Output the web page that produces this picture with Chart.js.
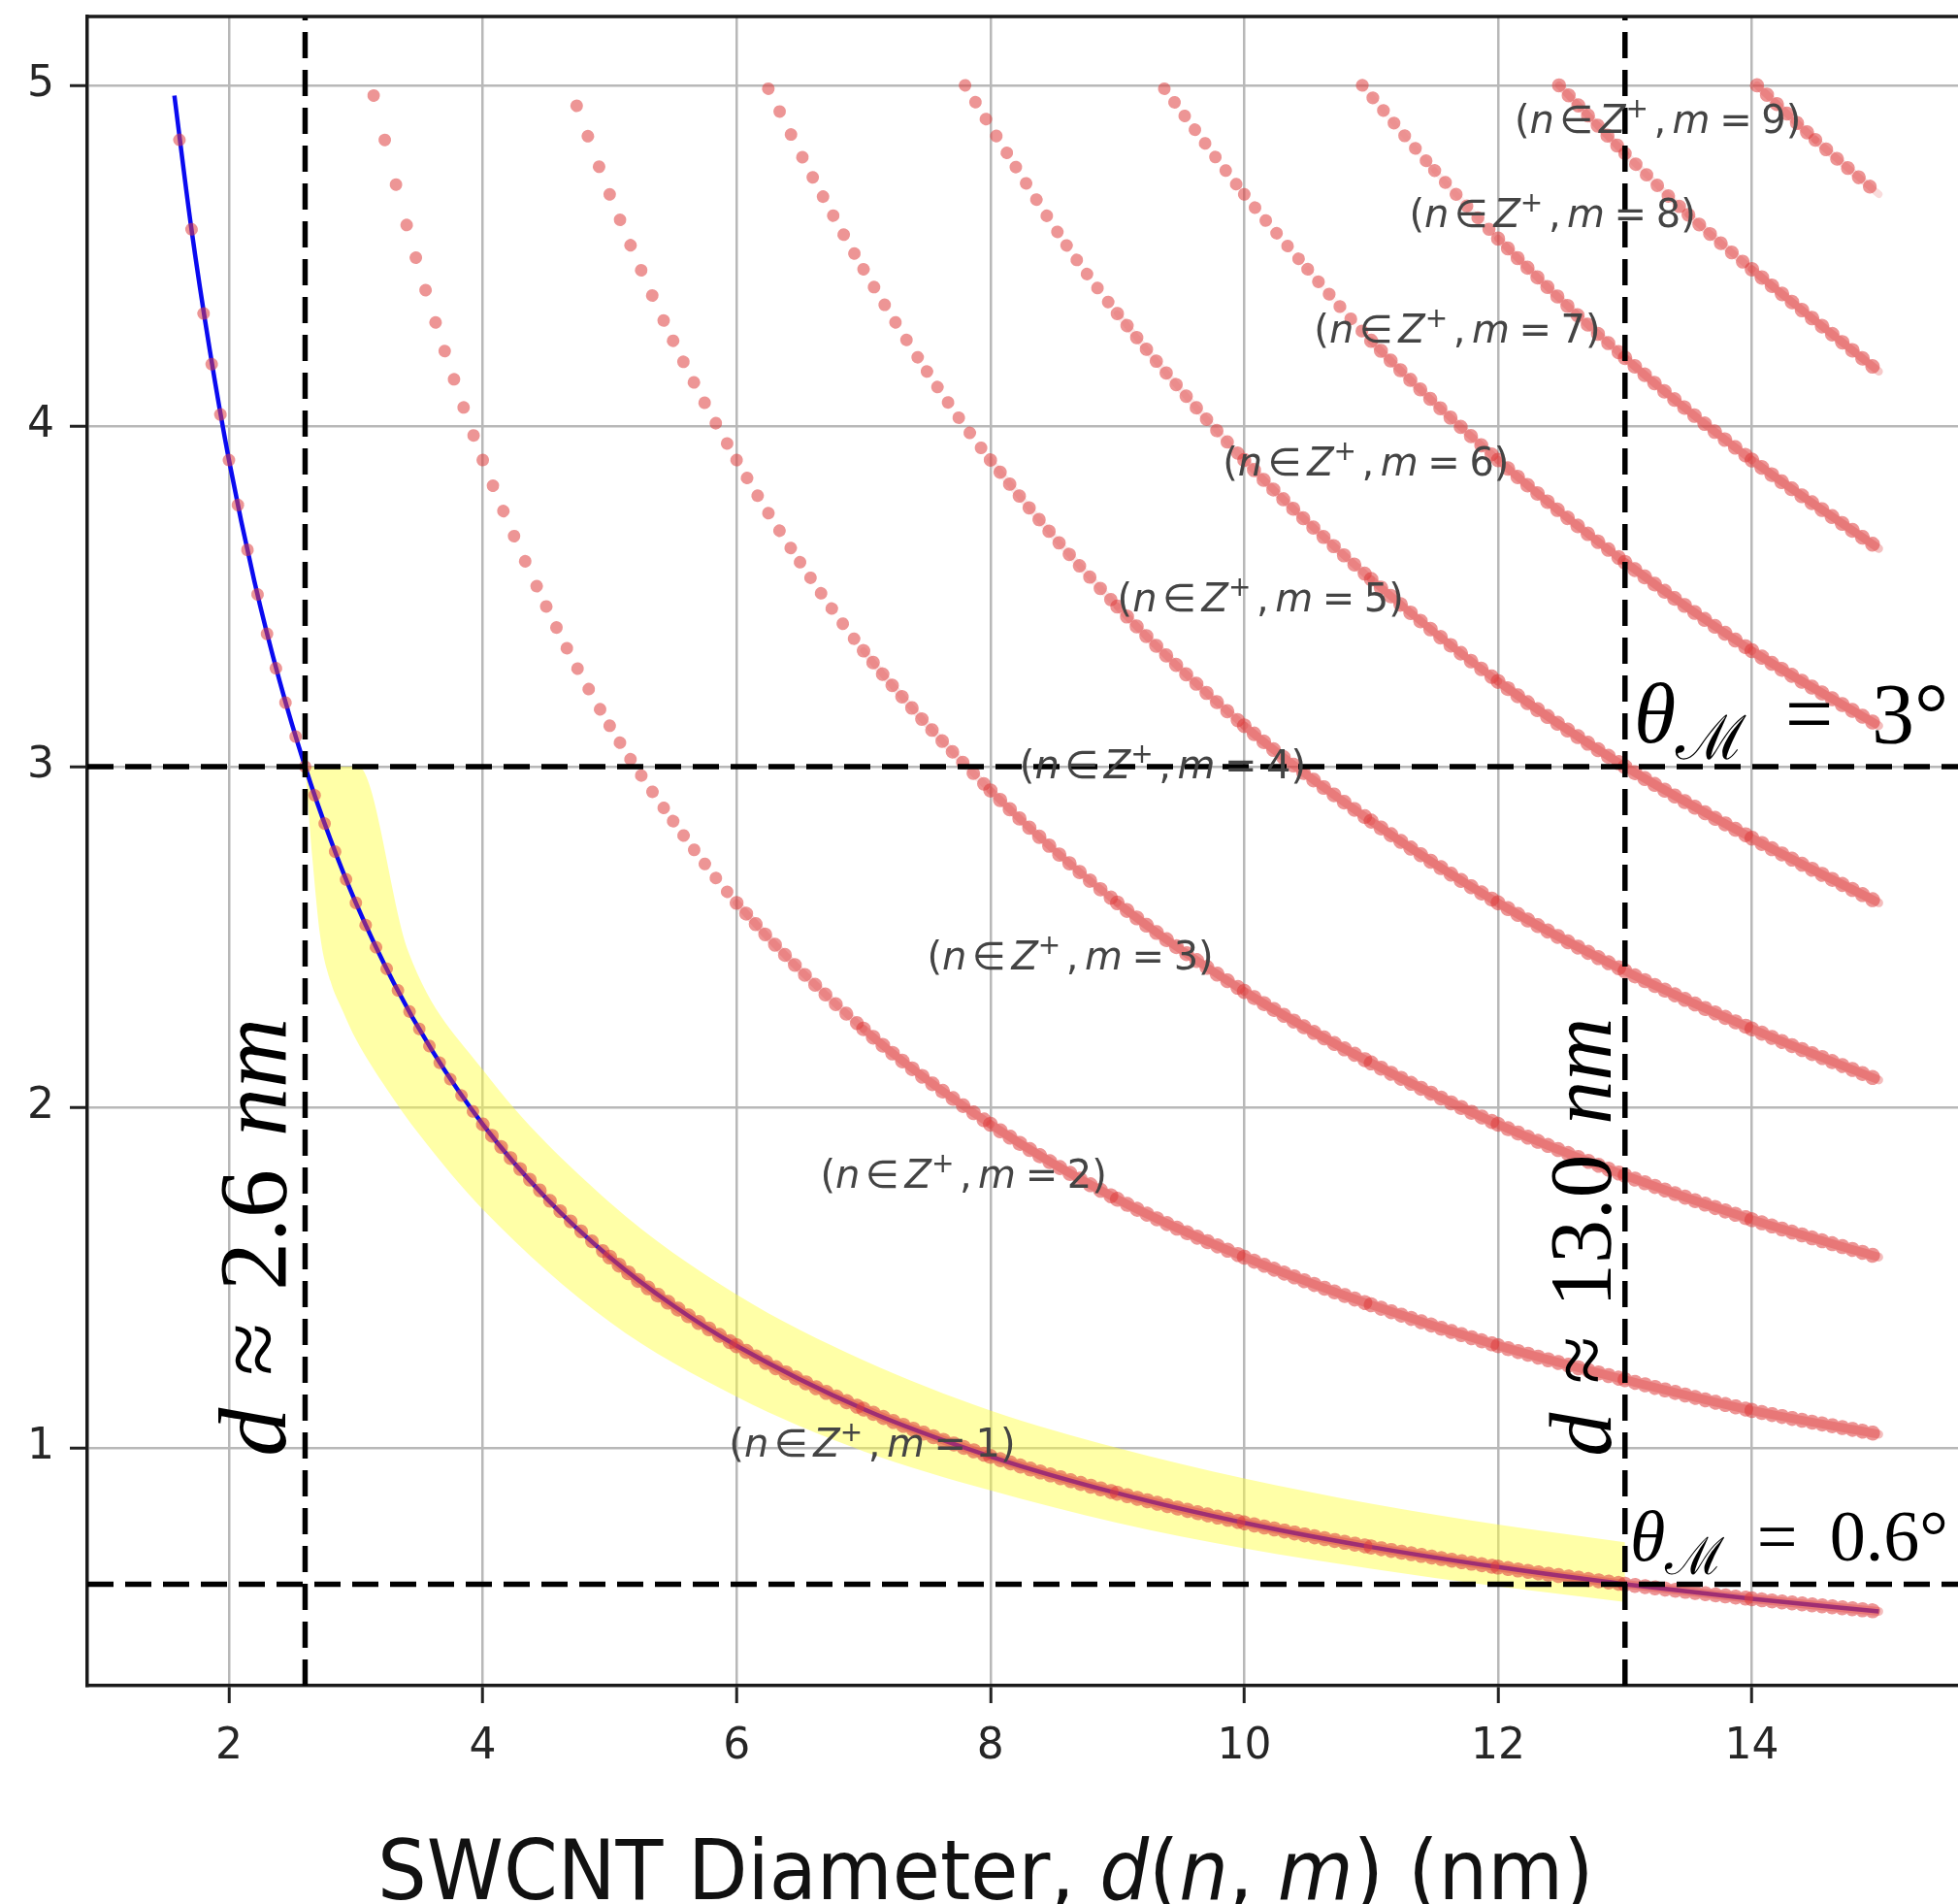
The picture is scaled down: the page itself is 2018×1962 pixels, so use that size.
<!DOCTYPE html>
<html>
<head>
<meta charset="utf-8">
<script src="https://cdn.jsdelivr.net/npm/chart.js@4.4.1/dist/chart.umd.min.js"></script>
<style>
  html, body { margin: 0; padding: 0; background: #ffffff; overflow: hidden; }
  canvas { display: block; background: #ffffff; }
</style>
</head>
<body>
<canvas id="chart" width="2018" height="1962"></canvas>
<script>
// ---- axes (diameter in nm, angle in degrees) ----
const xRange = [0.884, 15.624];
const yRange = [0.302, 5.202];
const xTickValues = [2, 4, 6, 8, 10, 12, 14];
const yTickValues = [1, 2, 3, 4, 5];

// ---- continuous guide curve for the m = 1 family ----
const guideDiameter = [1.57, 1.7, 1.85, 2.0, 2.2, 2.4, 2.6, 2.8, 3.0, 3.3, 3.6, 4.0, 4.5, 5.0, 5.5, 6.0, 7.0, 8.0, 9.0, 10.0, 11.0, 12.0, 13.0, 14.0, 15.0];
const guideAngle    = [4.97, 4.59, 4.22, 3.90, 3.545, 3.25, 3.00, 2.786, 2.60, 2.364, 2.167, 1.95, 1.733, 1.56, 1.418, 1.30, 1.114, 0.975, 0.867, 0.78, 0.709, 0.65, 0.60, 0.557, 0.52];

// ---- (n, m) tube families, one array pair per m ----
const familyM = [1, 2, 3, 4, 5, 6, 7, 8, 9];
const m1Diameter = [1.61, 1.8, 2.0, 2.3, 2.6, 3.0, 3.5, 4.0, 5.0, 6.0, 7.0, 8.0, 9.0, 10.0, 11.0, 12.0, 13.0, 14.0, 15.0];
const m1Angle    = [4.84, 4.33, 3.90, 3.39, 3.00, 2.60, 2.23, 1.95, 1.56, 1.30, 1.114, 0.975, 0.867, 0.78, 0.709, 0.65, 0.60, 0.557, 0.52];
const m2Diameter = [3.14, 3.4, 3.7, 4.0, 4.5, 5.0, 5.5, 6.0, 7.0, 8.0, 9.0, 10.0, 11.0, 12.0, 13.0, 14.0, 15.0];
const m2Angle    = [4.97, 4.59, 4.22, 3.90, 3.47, 3.12, 2.84, 2.60, 2.23, 1.95, 1.73, 1.56, 1.42, 1.30, 1.20, 1.11, 1.04];
const m3Diameter = [4.74, 5.0, 5.5, 6.0, 6.5, 7.0, 8.0, 9.0, 10.0, 11.0, 12.0, 13.0, 14.0, 15.0];
const m3Angle    = [4.94, 4.68, 4.25, 3.90, 3.60, 3.34, 2.93, 2.60, 2.34, 2.13, 1.95, 1.80, 1.67, 1.56];
const m4Diameter = [6.25, 6.6, 7.0, 7.5, 8.0, 9.0, 10.0, 11.0, 12.0, 13.0, 14.0, 15.0];
const m4Angle    = [4.99, 4.73, 4.46, 4.16, 3.90, 3.47, 3.12, 2.84, 2.60, 2.40, 2.23, 2.08];
const m5Diameter = [7.8, 8.2, 8.6, 9.0, 10.0, 11.0, 12.0, 13.0, 14.0, 15.0];
const m5Angle    = [5.00, 4.76, 4.53, 4.33, 3.90, 3.55, 3.25, 3.00, 2.79, 2.60];
const m6Diameter = [9.37, 10.0, 10.5, 11.0, 12.0, 13.0, 14.0, 15.0];
const m6Angle    = [4.99, 4.68, 4.46, 4.25, 3.90, 3.60, 3.34, 3.12];
const m7Diameter = [10.93, 11.5, 12.0, 13.0, 14.0, 15.0];
const m7Angle    = [5.00, 4.75, 4.55, 4.20, 3.90, 3.64];
const m8Diameter = [12.48, 13.0, 13.5, 14.0, 15.0];
const m8Angle    = [5.00, 4.80, 4.62, 4.46, 4.16];
const m9Diameter = [14.04, 14.5, 15.0];
const m9Angle    = [5.00, 4.84, 4.68];

// ---- highlighted window between the two reference angles ----
const bandUpperDiameter = [2.6, 3.02, 3.41, 4.0, 5.0, 6.0, 7.0, 8.0, 9.0, 10.0, 11.0, 12.0, 13.0];
const bandUpperAngle    = [3.0, 3.0, 2.46, 2.11, 1.72, 1.45, 1.257, 1.11, 1.0, 0.91, 0.836, 0.775, 0.723];
const bandLowerDiameter = [2.6, 2.66, 2.72, 2.8, 2.9, 3.0, 3.25, 3.5, 4.0, 5.0, 6.0, 7.0, 8.0, 9.0, 10.0, 11.0, 12.0, 13.0];
const bandLowerAngle    = [3.0, 2.72, 2.50, 2.37, 2.28, 2.20, 2.05, 1.92, 1.70, 1.37, 1.15, 0.99, 0.875, 0.78, 0.705, 0.645, 0.593, 0.548];

// ---- reference lines ----
const refDiameters = [2.6, 13.0];
const refAngles = [3, 0.6];
const refDiameterText = ['2.6', '13.0'];
const refAngleText = ['3°', '0.6°'];

// ---- label anchors (data coordinates) ----
const familyLabelAt = [[5.94, 1.01], [6.66, 1.80], [7.50, 2.44], [8.23, 3.0], [9.00, 3.49], [9.83, 3.89], [10.55, 4.28], [11.30, 4.62], [12.13, 4.895]];
const angleLabelAt = [[13.07, 3.07], [13.04, 0.67]];
const angleLabelSize = [88, 74];
const diameterLabelAt = [[2.44, 0.975], [12.89, 0.975]];
const diameterLabelSize = [100, 90];

const familyDiameters = [m1Diameter, m2Diameter, m3Diameter, m4Diameter, m5Diameter, m6Diameter, m7Diameter, m8Diameter, m9Diameter];
const familyAngles = [m1Angle, m2Angle, m3Angle, m4Angle, m5Angle, m6Angle, m7Angle, m8Angle, m9Angle];

const pts = (xs, ys) => xs.map((v, i) => ({ x: v, y: ys[i] }));

// Neighbouring tubes of one family sit ~0.078 nm apart in diameter.
// Each segment is stroked as a row of dots at that pitch; where the dots
// crowd together a faint core stroke darkens the overlap, as stacked
// translucent markers would.
const dotPitch = 0.078;
const dotSize = 13;
function dotSpacing(ctx) {
  const data = ctx.chart.data.datasets[ctx.datasetIndex].data;
  const a = data[ctx.p0DataIndex], b = data[ctx.p1DataIndex];
  const n = Math.max(1, Math.round(Math.abs(b.x - a.x) / dotPitch));
  const len = Math.hypot(ctx.p1.x - ctx.p0.x, ctx.p1.y - ctx.p0.y);
  return len / n;
}
// 0 where dots stand apart, 1 where they pile up
const crowding = (ctx) => Math.min(1, Math.max(0, (17 - dotSpacing(ctx)) / 5));
const dotSegment = {
  borderDash: (ctx) => [0.01, Math.max(1, dotSpacing(ctx) * 1.03 - 0.01)],
  borderWidth: (ctx) => dotSize + 2.5 * crowding(ctx)
};
const coreSegment = {
  borderColor: (ctx) => `rgba(222,62,62,${(0.34 * crowding(ctx)).toFixed(3)})`,
  borderWidth: (ctx) => 6 + 3 * crowding(ctx)
};

const datasets = [];
datasets.push({
  label: 'band upper', data: pts(bandUpperDiameter, bandUpperAngle),
  borderWidth: 0, pointRadius: 0, fill: '+1', backgroundColor: 'rgba(255,255,60,0.45)',
  cubicInterpolationMode: 'monotone', order: 50
});
datasets.push({
  label: 'band lower', data: pts(bandLowerDiameter, bandLowerAngle),
  borderWidth: 0, pointRadius: 0, fill: false,
  cubicInterpolationMode: 'monotone', order: 50
});
datasets.push({
  label: 'm = 1 guide', data: pts(guideDiameter, guideAngle),
  borderColor: 'rgb(10,10,240)', borderWidth: 4.5, pointRadius: 0, fill: false,
  cubicInterpolationMode: 'monotone', order: 40
});
familyM.forEach((m, i) => {
  datasets.push({
    label: 'm = ' + m, data: pts(familyDiameters[i], familyAngles[i]),
    borderColor: 'rgba(222,62,62,0.55)', borderWidth: dotSize, borderCapStyle: 'round',
    pointRadius: 0, fill: false, cubicInterpolationMode: 'monotone', order: 30,
    segment: dotSegment
  });
  datasets.push({
    label: 'm = ' + m + ' core', data: pts(familyDiameters[i], familyAngles[i]),
    borderColor: 'rgba(222,62,62,0)', borderWidth: 7, borderCapStyle: 'round',
    pointRadius: 0, fill: false, cubicInterpolationMode: 'monotone', order: 29,
    segment: coreSegment
  });
});
refDiameters.forEach((d) => {
  datasets.push({
    label: 'd = ' + d, data: [{ x: d, y: yRange[0] }, { x: d, y: yRange[1] }],
    borderColor: '#000', borderWidth: 5.5, borderDash: [27, 12], pointRadius: 0, fill: false, order: 10
  });
});
refAngles.forEach((t) => {
  datasets.push({
    label: 'theta = ' + t, data: [{ x: xRange[0], y: t }, { x: xRange[1], y: t }],
    borderColor: '#000', borderWidth: 5.5, borderDash: [27, 12], pointRadius: 0, fill: false, order: 10
  });
});

// sequential text runs with mixed fonts; returns total advance
function drawRuns(ctx, runs, x, y) {
  let cx = x;
  for (const r of runs) {
    if (r.gap) { cx += r.gap; continue; }
    ctx.font = r.font;
    ctx.fillText(r.text, cx, y + (r.dy || 0));
    cx += ctx.measureText(r.text).width;
  }
  return cx - x;
}

function familyRuns(m, s) {
  const reg = `${s}px "DejaVu Sans"`, it = `italic ${s}px "DejaVu Sans"`, sup = `${Math.round(s * 0.7)}px "DejaVu Sans"`;
  return [
    { text: '(', font: reg }, { text: 'n', font: it }, { gap: s * 0.14 }, { text: '∈', font: reg }, { gap: s * 0.14 },
    { text: 'Z', font: it }, { text: '+', font: sup, dy: -s * 0.4 }, { gap: s * 0.14 }, { text: ',', font: reg }, { gap: s * 0.16 },
    { text: 'm', font: it }, { gap: s * 0.24 }, { text: '=', font: reg }, { gap: s * 0.24 }, { text: String(m), font: reg }, { text: ')', font: reg }
  ];
}

function angleRuns(txt, s) {
  const serif = '"Liberation Serif", "DejaVu Serif", serif';
  return [
    { text: 'θ', font: `italic ${s}px ${serif}` },
    { text: 'ℳ', font: `${Math.round(s * 0.72)}px ${serif}`, dy: s * 0.19 },
    { gap: s * 0.45 }, { text: '=', font: `${s}px ${serif}` }, { gap: s * 0.45 },
    { text: txt, font: `${s}px ${serif}` }
  ];
}

function diameterRuns(txt, s) {
  const serif = '"Liberation Serif", "DejaVu Serif", serif';
  return [
    { text: 'd', font: `italic ${s}px ${serif}` }, { gap: s * 0.33 },
    { text: '≈', font: `${s}px ${serif}` }, { gap: s * 0.33 },
    { text: txt, font: `${s}px ${serif}` }, { gap: s * 0.34 },
    { text: 'nm', font: `italic ${s}px ${serif}` }
  ];
}

const annotations = {
  id: 'annotations',
  afterDatasetsDraw(chart) {
    const { ctx, chartArea, scales: { x, y } } = chart;
    ctx.save();
    // top frame line
    ctx.strokeStyle = '#1a1a1a';
    ctx.lineWidth = 3.5;
    ctx.beginPath();
    ctx.moveTo(chartArea.left - 1.75, chartArea.top);
    ctx.lineTo(chartArea.right, chartArea.top);
    ctx.stroke();

    ctx.textBaseline = 'alphabetic';
    ctx.textAlign = 'left';

    // family labels
    ctx.fillStyle = '#444444';
    const fs = 40;
    familyM.forEach((m, i) => {
      const [ax, ay] = familyLabelAt[i];
      drawRuns(ctx, familyRuns(m, fs), x.getPixelForValue(ax), y.getPixelForValue(ay) + fs * 0.31);
    });

    // angle labels
    ctx.fillStyle = '#000';
    refAngleText.forEach((t, i) => {
      const [ax, ay] = angleLabelAt[i];
      drawRuns(ctx, angleRuns(t, angleLabelSize[i]), x.getPixelForValue(ax), y.getPixelForValue(ay));
    });

    // diameter labels (rotated)
    refDiameterText.forEach((t, i) => {
      const [ax, ay] = diameterLabelAt[i];
      ctx.save();
      ctx.translate(x.getPixelForValue(ax), y.getPixelForValue(ay));
      ctx.rotate(-Math.PI / 2);
      drawRuns(ctx, diameterRuns(t, diameterLabelSize[i]), 0, 0);
      ctx.restore();
    });

    // x axis title
    ctx.fillStyle = '#111';
    const ts = 80;
    const reg = `${ts}px "DejaVu Sans"`, it = `italic ${ts}px "DejaVu Sans"`;
    ctx.save();
    ctx.translate(389, 1957);
    ctx.scale(1, 1.06);
    drawRuns(ctx, [
      { text: 'SWCNT Diameter, ', font: reg }, { text: 'd', font: it }, { text: '(', font: reg },
      { text: 'n', font: it }, { text: ', ', font: reg }, { text: 'm', font: it }, { text: ')', font: reg },
      { text: ' (nm)', font: reg }
    ], 0, 0);
    ctx.restore();
    ctx.restore();
  }
};

const tickFont = { family: 'DejaVu Sans', size: 44 };

new Chart(document.getElementById('chart'), {
  type: 'line',
  data: { datasets },
  options: {
    responsive: false,
    maintainAspectRatio: false,
    animation: false,
    devicePixelRatio: 1,
    layout: { padding: { top: 17, left: 0, right: 0, bottom: 0 } },
    plugins: { legend: { display: false }, tooltip: { enabled: false } },
    scales: {
      x: {
        type: 'linear', min: xRange[0], max: xRange[1],
        afterBuildTicks: (s) => { s.ticks = xTickValues.map((v) => ({ value: v })); },
        afterFit: (s) => { s.height = 225; s.paddingLeft = 0; s.paddingRight = 0; },
        grid: { color: '#b8b8b8', lineWidth: 2.5, tickLength: 18, tickColor: '#222', tickWidth: 3 },
        border: { display: true, color: '#1a1a1a', width: 3.5 },
        ticks: { font: tickFont, color: '#262626', padding: 19, maxRotation: 0, autoSkip: false }
      },
      y: {
        type: 'linear', min: yRange[0], max: yRange[1],
        afterBuildTicks: (s) => { s.ticks = yTickValues.map((v) => ({ value: v })); },
        afterFit: (s) => { s.width = 90; s.paddingTop = 0; s.paddingBottom = 0; },
        grid: { color: '#b8b8b8', lineWidth: 2.5, tickLength: 18, tickColor: '#222', tickWidth: 3 },
        border: { display: true, color: '#1a1a1a', width: 3.5 },
        ticks: { font: tickFont, color: '#262626', padding: 16, autoSkip: false }
      }
    }
  },
  plugins: [annotations]
});
</script>
</body>
</html>
